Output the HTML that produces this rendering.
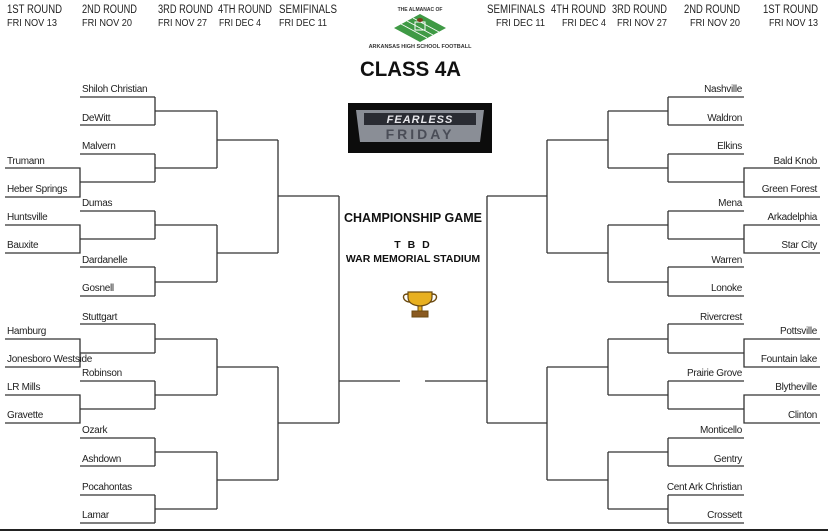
<!DOCTYPE html>
<html><head><meta charset="utf-8"><style>
html,body{margin:0;padding:0;background:#fff;}
svg{display:block;font-family:"Liberation Sans",Arial,sans-serif;}
.t{font-size:10px;fill:#222;letter-spacing:-0.3px;}
.h{font-size:11.5px;fill:#222;}
.d{font-size:10.5px;fill:#222;}
.r{text-anchor:end;}
</style></head><body>
<svg width="828" height="532" viewBox="0 0 828 532" xmlns="http://www.w3.org/2000/svg">
<g class="h">
<text x="7" y="13" textLength="55" lengthAdjust="spacingAndGlyphs">1ST ROUND</text>
<text x="82" y="13" textLength="55" lengthAdjust="spacingAndGlyphs">2ND ROUND</text>
<text x="158" y="13" textLength="55" lengthAdjust="spacingAndGlyphs">3RD ROUND</text>
<text x="218" y="13" textLength="54" lengthAdjust="spacingAndGlyphs">4TH ROUND</text>
<text x="279" y="13" textLength="58" lengthAdjust="spacingAndGlyphs">SEMIFINALS</text>
<text x="487" y="13" textLength="58" lengthAdjust="spacingAndGlyphs">SEMIFINALS</text>
<text x="551" y="13" textLength="55" lengthAdjust="spacingAndGlyphs">4TH ROUND</text>
<text x="612" y="13" textLength="55" lengthAdjust="spacingAndGlyphs">3RD ROUND</text>
<text x="684" y="13" textLength="56" lengthAdjust="spacingAndGlyphs">2ND ROUND</text>
<text x="763" y="13" textLength="55" lengthAdjust="spacingAndGlyphs">1ST ROUND</text>
</g>
<g class="d">
<text x="7" y="26" textLength="50" lengthAdjust="spacingAndGlyphs">FRI NOV 13</text>
<text x="82" y="26" textLength="50" lengthAdjust="spacingAndGlyphs">FRI NOV 20</text>
<text x="158" y="26" textLength="49" lengthAdjust="spacingAndGlyphs">FRI NOV 27</text>
<text x="219" y="26" textLength="42" lengthAdjust="spacingAndGlyphs">FRI DEC 4</text>
<text x="279" y="26" textLength="48" lengthAdjust="spacingAndGlyphs">FRI DEC 11</text>
<text x="496" y="26" textLength="49" lengthAdjust="spacingAndGlyphs">FRI DEC 11</text>
<text x="562" y="26" textLength="44" lengthAdjust="spacingAndGlyphs">FRI DEC 4</text>
<text x="617" y="26" textLength="50" lengthAdjust="spacingAndGlyphs">FRI NOV 27</text>
<text x="690" y="26" textLength="50" lengthAdjust="spacingAndGlyphs">FRI NOV 20</text>
<text x="769" y="26" textLength="49" lengthAdjust="spacingAndGlyphs">FRI NOV 13</text>
</g>
<!-- logo -->
<text x="420" y="11" text-anchor="middle" style="font-size:5px;font-weight:bold;fill:#333">THE ALMANAC OF</text>
<polygon points="420,14 446,28 420,42 394,28" fill="#3f9a45"/>
<g stroke="#fff" stroke-width="0.8"><line x1="401" y1="24" x2="427" y2="38"/><line x1="407" y1="21" x2="433" y2="35"/><line x1="413" y1="18" x2="439" y2="32"/></g>
<rect x="415" y="22" width="10" height="8" fill="none" stroke="#fff" stroke-width="1"/>
<ellipse cx="420" cy="20" rx="3" ry="2" fill="#7a3b1c"/>
<text x="420" y="48" text-anchor="middle" style="font-size:5.5px;font-weight:bold;fill:#333">ARKANSAS HIGH SCHOOL FOOTBALL</text>
<text x="360" y="76" textLength="101" lengthAdjust="spacingAndGlyphs" style="font-size:21px;font-weight:bold;fill:#111">CLASS 4A</text>
<!-- fearless friday -->
<rect x="348" y="103" width="144" height="50" fill="#0c0c0c"/>
<polygon points="356,110 484,110 480,142 360,142" fill="#8a8e96"/>
<rect x="364" y="113" width="112" height="12" fill="#2a2c33"/>
<text x="420" y="123" text-anchor="middle" style="font-size:11px;font-weight:bold;font-style:italic;fill:#e8e8ec;letter-spacing:1px">FEARLESS</text>
<text x="420" y="139" text-anchor="middle" style="font-size:14px;font-weight:bold;fill:#4a4d57;letter-spacing:3px">FRIDAY</text>
<!-- center -->
<text x="413" y="222" text-anchor="middle" style="font-size:12.5px;font-weight:bold;fill:#111">CHAMPIONSHIP GAME</text>
<text x="413" y="248" text-anchor="middle" style="font-size:10.5px;font-weight:bold;fill:#111;letter-spacing:2px">T B D</text>
<text x="413" y="262" text-anchor="middle" style="font-size:10.5px;font-weight:bold;fill:#111">WAR MEMORIAL STADIUM</text>
<g>
<path d="M408,292 H432 V297 Q432,305 420,306 Q408,305 408,297 Z" fill="#e8b020" stroke="#6b4a10" stroke-width="1.2"/>
<path d="M408,294 Q402,294 404,299 Q406,302 410,302 M432,294 Q438,294 436,299 Q434,302 430,302" fill="none" stroke="#6b4a10" stroke-width="1.4"/>
<rect x="418" y="306" width="4" height="5" fill="#e8b020" stroke="#6b4a10" stroke-width="1"/>
<rect x="412" y="311" width="16" height="6" fill="#8a5a20" stroke="#6b4a10" stroke-width="1"/>
</g>
<!-- lines -->
<g stroke="#333" stroke-width="1.3" fill="none">
<path d="M80 97H155M80 125H155M80 154H155M80 182H155M80 211H155M80 239H155M80 267H155M80 296H155M80 324H155M80 353H155M80 381H155M80 409H155M80 438H155M80 466H155M80 495H155M80 523H155"/>
<path d="M155 97V125M155 154V182M155 211V239M155 267V296M155 324V353M155 381V409M155 438V466M155 495V523"/>
<path d="M155 111H217M155 168H217M155 225H217M155 282H217M155 339H217M155 395H217M155 452H217M155 509H217"/>
<path d="M217 111V168M217 225V282M217 339V395M217 452V509M217 140H278M217 253H278M217 367H278M217 480H278"/>
<path d="M278 140V253M278 367V480M278 196H339M278 423H339M339 196V423M339 381H400"/>
<path d="M5 168H80V197H5M5 225H80V253H5M5 339H80V367H5M5 395H80V423H5"/>
<path d="M744 97H668M744 125H668M744 154H668M744 182H668M744 211H668M744 239H668M744 267H668M744 296H668M744 324H668M744 353H668M744 381H668M744 409H668M744 438H668M744 466H668M744 495H668M744 523H668"/>
<path d="M668 97V125M668 154V182M668 211V239M668 267V296M668 324V353M668 381V409M668 438V466M668 495V523"/>
<path d="M668 111H608M668 168H608M668 225H608M668 282H608M668 339H608M668 395H608M668 452H608M668 509H608"/>
<path d="M608 111V168M608 225V282M608 339V395M608 452V509M608 140H547M608 253H547M608 367H547M608 480H547"/>
<path d="M547 140V253M547 367V480M547 196H487M547 423H487M487 196V423M487 381H425"/>
<path d="M820 168H744V197H820M820 225H744V253H820M820 339H744V367H820M820 395H744V423H820"/>
</g>
<line x1="0" y1="530" x2="828" y2="530" stroke="#222" stroke-width="2"/>
<g class="t">
<text x="82" y="92">Shiloh Christian</text><text x="82" y="121">DeWitt</text><text x="82" y="149">Malvern</text>
<text x="82" y="206">Dumas</text><text x="82" y="263">Dardanelle</text><text x="82" y="291">Gosnell</text>
<text x="82" y="320">Stuttgart</text><text x="82" y="376">Robinson</text><text x="82" y="433">Ozark</text>
<text x="82" y="462">Ashdown</text><text x="82" y="490">Pocahontas</text><text x="82" y="518">Lamar</text>
<text x="7" y="164">Trumann</text><text x="7" y="192">Heber Springs</text><text x="7" y="220">Huntsville</text><text x="7" y="248">Bauxite</text>
<text x="7" y="334">Hamburg</text><text x="7" y="362">Jonesboro Westside</text><text x="7" y="390">LR Mills</text><text x="7" y="418">Gravette</text>
</g>
<g class="t r">
<text x="742" y="92">Nashville</text><text x="742" y="121">Waldron</text><text x="742" y="149">Elkins</text>
<text x="742" y="206">Mena</text><text x="742" y="263">Warren</text><text x="742" y="291">Lonoke</text>
<text x="742" y="320">Rivercrest</text><text x="742" y="376">Prairie Grove</text><text x="742" y="433">Monticello</text>
<text x="742" y="462">Gentry</text><text x="742" y="490">Cent Ark Christian</text><text x="742" y="518">Crossett</text>
<text x="817" y="164">Bald Knob</text><text x="817" y="192">Green Forest</text><text x="817" y="220">Arkadelphia</text><text x="817" y="248">Star City</text>
<text x="817" y="334">Pottsville</text><text x="817" y="362">Fountain lake</text><text x="817" y="390">Blytheville</text><text x="817" y="418">Clinton</text>
</g>
</svg>
</body></html>
